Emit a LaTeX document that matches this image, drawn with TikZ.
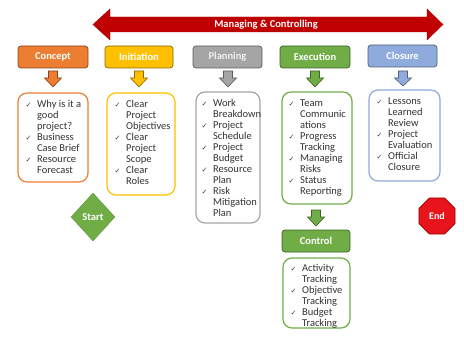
\documentclass[tikz,border=0pt]{standalone}
\usepackage{fontspec}
\setmainfont{Carlito}
\newfontfamily\symfont{DejaVu Sans}
\usetikzlibrary{shapes.geometric,calc}
\definecolor{cRed}{HTML}{C00000}
\definecolor{cOrange}{HTML}{ED7D31}
\definecolor{cGold}{HTML}{FFC000}
\definecolor{cGray}{HTML}{A5A5A5}
\definecolor{cGreen}{HTML}{70AD47}
\definecolor{cBlue}{HTML}{8FAADC}
\definecolor{cText}{HTML}{333333}
\definecolor{cEnd}{HTML}{E8141B}
\newcommand{\ck}{\makebox[11.5pt][l]{\symfont\fontsize{7}{7}\selectfont ✓}}
\newcommand{\downarr}[4]{%
  \draw[fill=#4, draw=#4!55!black, line width=0.6pt]
    (#1-4.5,#2) -- (#1+4.5,#2) -- (#1+4.5,#2+7) -- (#1+8.5,#2+7) -- (#1,#3)
    -- (#1-8.5,#2+7) -- (#1-4.5,#2+7) -- cycle;}
\tikzset{
  hdr/.style={draw=#1!55!black, fill=#1, rounded corners=3pt, line width=0.7pt,
    font=\fontsize{10.5}{12}\selectfont\bfseries, text=white, inner sep=0pt},
  lst/.style={draw=#1, line width=1.2pt, rounded corners=9pt, fill=white, inner sep=0pt},
  lsttext/.style={anchor=north west, inner sep=0pt, text=cText,
    font=\fontsize{10.5}{11}\selectfont}
}
\begin{document}
\begin{tikzpicture}[x=1pt,y=-1pt]
\useasboundingbox (0,0) rectangle (464,337);
% big double arrow
\draw[fill=cRed, draw=cRed!85!black, line width=0.4pt]
  (93,24.5) -- (110,9) -- (110,17) -- (427,17) -- (427,9) -- (443,24.5)
  -- (427,40) -- (427,32) -- (110,32) -- (110,40) -- cycle;
\node[text=white, font=\fontsize{10.5}{12}\selectfont\bfseries] (mc) at (266,25) {Managing \& Controlling};

% headers
\node[hdr=cOrange, minimum width=70pt, minimum height=22pt] (h1) at (53,57) {Concept};
\node[hdr=cGold, minimum width=68pt, minimum height=22pt] (h2) at (139,57) {Initiation};
\node[hdr=cGray, minimum width=69pt, minimum height=22pt, text=white!88!gray] (h3) at (227.5,57) {Planning};
\node[hdr=cGreen, minimum width=70pt, minimum height=22pt] (h4) at (315,57) {Execution};
\node[hdr=cBlue, minimum width=69pt, minimum height=22pt] (h5) at (402.5,56) {Closure};
\node[hdr=cGreen, minimum width=68pt, minimum height=22pt] (h6) at (316,241) {Control};

% down arrows
\downarr{53}{71}{87}{cOrange}
\downarr{139}{71}{87}{cGold}
\downarr{228}{71}{87}{cGray}
\downarr{315}{71}{87}{cGreen}
\downarr{403}{71}{86}{cBlue}
\downarr{316}{210}{226}{cGreen}

% list boxes
\node[lst=cOrange, minimum width=70pt, minimum height=89pt] (b1) at (53,137.5) {};
\node[lst=cGold, minimum width=68pt, minimum height=102pt] (b2) at (141,144) {};
\node[lst=cGray, minimum width=64pt, minimum height=131pt] (b3) at (228,157.5) {};
\node[lst=cGreen, minimum width=70pt, minimum height=112pt] (b4) at (317,148) {};
\node[lst=cBlue, minimum width=71pt, minimum height=91pt] (b5) at (404.5,135.5) {};
\node[lst=cGreen, minimum width=67pt, minimum height=70pt] (b6) at (316.5,293) {};

\node[lsttext] (t1) at ($(b1.north west)+(8,7)$) {\begin{tabular}{@{}l@{}l@{}}
\ck & Why is it a\\ & good\\ & project?\\ \ck & Business\\ & Case Brief\\ \ck & Resource\\ & Forecast
\end{tabular}};
\node[lsttext] (t2) at ($(b2.north west)+(8,7)$) {\begin{tabular}{@{}l@{}l@{}}
\ck & Clear\\ & Project\\ & Objectives\\ \ck & Clear\\ & Project\\ & Scope\\ \ck & Clear\\ & Roles
\end{tabular}};
\node[lsttext] (t3) at ($(b3.north west)+(6,7)$) {\begin{tabular}{@{}l@{}l@{}}
\ck & Work\\ & Breakdown\\ \ck & Project\\ & Schedule\\ \ck & Project\\ & Budget\\ \ck & Resource\\ & Plan\\ \ck & Risk\\ & Mitigation\\ & Plan
\end{tabular}};
\node[lsttext] (t4) at ($(b4.north west)+(7,7)$) {\begin{tabular}{@{}l@{}l@{}}
\ck & Team\\ & Communic\\ & ations\\ \ck & Progress\\ & Tracking\\ \ck & Managing\\ & Risks\\ \ck & Status\\ & Reporting
\end{tabular}};
\node[lsttext] (t5) at ($(b5.north west)+(8,7)$) {\begin{tabular}{@{}l@{}l@{}}
\ck & Lessons\\ & Learned\\ & Review\\ \ck & Project\\ & Evaluation\\ \ck & Official\\ & Closure
\end{tabular}};
\node[lsttext] (t6) at ($(b6.north west)+(8,6)$) {\begin{tabular}{@{}l@{}l@{}}
\ck & Activity\\ & Tracking\\ \ck & Objective\\ & Tracking\\ \ck & Budget\\ & Tracking
\end{tabular}};

% start and end
\node[diamond, fill=cGreen, draw=cGreen!85!black, line width=0.4pt, minimum width=44pt,
  minimum height=48pt, inner sep=0pt, text=white, font=\fontsize{10.5}{12}\selectfont\bfseries] (start) at (93,217) {Start};
\node[regular polygon, regular polygon sides=8, minimum size=39pt, fill=cEnd,
  draw=cRed!85!black, line width=0.8pt, inner sep=0pt, text=white,
  font=\fontsize{10}{12}\selectfont\bfseries] (end) at (437,216) {End};
\end{tikzpicture}
\end{document}
